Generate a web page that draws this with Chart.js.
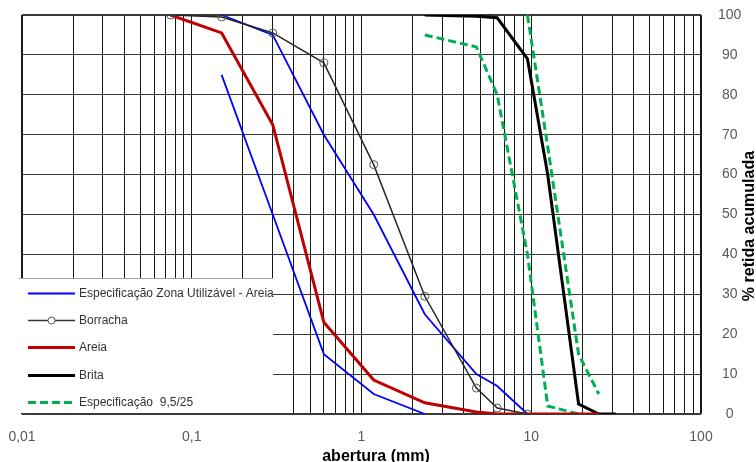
<!DOCTYPE html>
<html lang="pt-BR">
<head>
<meta charset="utf-8">
<title>Curva granulométrica</title>
<script src="https://cdn.jsdelivr.net/npm/chart.js@4.4.1/dist/chart.umd.min.js"></script>
<style>
  html, body { margin: 0; padding: 0; background: #fff; }
  #wrap { width: 756px; height: 462px; }
</style>
</head>
<body>
<div id="wrap"><canvas id="grafico" width="756" height="462"></canvas></div>
<script>
// abertura das peneiras (mm) x % retida acumulada
const zonaSupX = [0.15, 0.3, 0.6, 1.18, 2.36, 4.75, 6.3, 9.5];
const zonaSupY = [100, 95, 70, 50, 25, 10, 7, 0];
const zonaInfX = [0.15, 0.3, 0.6, 1.18, 2.36];
const zonaInfY = [85, 50, 15, 5, 0];

const borrachaX = [0.075, 0.15, 0.3, 0.6, 1.18, 2.36, 4.75, 6.3, 9.5];
const borrachaY = [100, 99.5, 95.5, 88, 62.5, 29.5, 6.5, 1.5, 0];

const areiaX = [0.075, 0.15, 0.3, 0.6, 1.18, 2.36, 4.75, 6.3, 9.5, 12.5, 19, 25];
const areiaY = [100, 95.5, 72.5, 23, 8.5, 2.8, 0.5, 0, 0, 0, 0, 0];

const britaX = [2.36, 4.75, 6.3, 9.5, 12.5, 19, 25, 31.5];
const britaY = [100, 99.7, 99.3, 89, 60, 2.5, 0, 0];

const espec1X = [2.36, 4.75, 6.3, 9.5, 12.5, 19];
const espec1Y = [95, 92, 80, 40, 2, 0];
const espec2X = [9.5, 12.5, 19, 25];
const espec2Y = [100, 67, 15, 5];

const xTickValues = [0.01, 0.1, 1, 10, 100];
const xTickLabels = ['0,01', '0,1', '1', '10', '100'];

const legendLabels = [
    'Especificação Zona Utilizável - Areia',
    'Borracha',
    'Areia',
    'Brita',
    'Especificação  9,5/25'
];

const FONTE = '"Liberation Sans", Arial, sans-serif';

function toPoints(xs, ys) {
    return xs.map((x, i) => ({ x: x, y: ys[i] }));
}

// linhas de grade em 1..9 de cada década
function logGridTicks(scale) {
    const ticks = [];
    for (let e = -2; e <= 1; e++) {
        for (let k = 1; k <= 9; k++) {
            ticks.push({ value: +(k * Math.pow(10, e)).toPrecision(6) });
        }
    }
    ticks.push({ value: 100 });
    scale.ticks = ticks;
}

function xLabel(value) {
    const i = xTickValues.findIndex(v => Math.abs(v - value) < 1e-9);
    return i >= 0 ? xTickLabels[i] : '';
}

function line(data, color, width, dash) {
    return {
        data: data,
        showLine: true,
        borderColor: color,
        borderWidth: width,
        borderDash: dash || [],
        pointRadius: 0,
        fill: false,
        tension: 0
    };
}

// legenda dentro da área do gráfico + títulos dos eixos
const legendaPlugin = {
    id: 'legendaInterna',
    beforeDatasetsDraw(chart) {
        const ctx = chart.ctx;
        const ca = chart.chartArea;
        const bx = ca.left - 3, by = ca.bottom - 136;
        const bw = 254, bh = 135;
        ctx.save();
        ctx.fillStyle = '#fff';
        ctx.fillRect(bx, by, bw, bh);
        ctx.strokeStyle = '#a6a6a6';
        ctx.lineWidth = 1;
        ctx.beginPath();
        ctx.moveTo(bx, by + 0.5);
        ctx.lineTo(bx + bw, by + 0.5);
        ctx.stroke();

        const estilos = [
            { color: '#0000ff', width: 2, dash: [] },
            { color: '#333333', width: 1.5, dash: [], marker: true },
            { color: '#c00000', width: 3, dash: [] },
            { color: '#000000', width: 3, dash: [] },
            { color: '#00b050', width: 3, dash: [8, 4] }
        ];
        ctx.font = '12px ' + FONTE;
        ctx.textBaseline = 'middle';
        ctx.fillStyle = '#333';
        legendLabels.forEach((txt, i) => {
            const y = Math.round(by + 15 + i * 27.2) + 0.5;
            const s = estilos[i];
            ctx.strokeStyle = s.color;
            ctx.lineWidth = s.width;
            ctx.setLineDash(s.dash);
            ctx.beginPath();
            ctx.moveTo(ca.left + 6, y);
            ctx.lineTo(ca.left + 53, y);
            ctx.stroke();
            ctx.setLineDash([]);
            if (s.marker) {
                ctx.fillStyle = '#fff';
                ctx.lineWidth = 1;
                ctx.strokeStyle = '#555';
                ctx.beginPath();
                ctx.arc(ca.left + 29.5, y, 3.5, 0, Math.PI * 2);
                ctx.fill();
                ctx.stroke();
            }
            ctx.fillStyle = '#333';
            ctx.fillText(txt, ca.left + 57, y);
        });
        ctx.restore();
    },
    afterDraw(chart) {
        const ctx = chart.ctx;
        ctx.save();
        ctx.fillStyle = '#000';
        ctx.font = 'bold 16px ' + FONTE;
        ctx.textAlign = 'center';
        ctx.textBaseline = 'alphabetic';
        ctx.fillText('abertura (mm)', 376, 461);
        ctx.translate(754, 226);
        ctx.rotate(-Math.PI / 2);
        ctx.fillText('% retida acumulada', 0, 0);
        ctx.restore();
    }
};

function criarGrafico() {
    const ctx = document.getElementById('grafico').getContext('2d');
    return new Chart(ctx, {
        type: 'scatter',
        data: {
            datasets: [
                Object.assign(line(toPoints(borrachaX, borrachaY), '#262626', 1.5), {
                    pointRadius: 4,
                    pointStyle: 'circle',
                    pointBackgroundColor: 'rgba(0,0,0,0)',
                    pointBorderColor: '#555',
                    pointBorderWidth: 1
                }),
                line(toPoints(areiaX, areiaY), '#c00000', 3),
                line(toPoints(zonaSupX, zonaSupY), '#0000ff', 1.8),
                line(toPoints(zonaInfX, zonaInfY), '#0000ff', 1.8),
                line(toPoints(britaX, britaY), '#000000', 3),
                line(toPoints(espec1X, espec1Y), '#00b050', 3, [8, 4]),
                line(toPoints(espec2X, espec2Y), '#00b050', 3, [8, 4])
            ]
        },
        options: {
            responsive: false,
            animation: false,
            devicePixelRatio: 1,
            layout: { padding: { left: 22, top: 15, right: 0, bottom: 0 } },
            plugins: {
                legend: { display: false },
                tooltip: { enabled: false }
            },
            scales: {
                x: {
                    type: 'logarithmic',
                    min: 0.01,
                    max: 100,
                    afterBuildTicks: logGridTicks,
                    afterFit: s => {
                        s.height = 48;
                        s.paddingLeft = 0;
                        s.paddingRight = 0;
                    },
                    border: { display: false },
                    grid: {
                        drawTicks: false,
                        color: '#1a1a1a',
                        lineWidth: c => (c.tick && (c.tick.value === 0.01 || c.tick.value === 100)) ? 2 : 1
                    },
                    ticks: {
                        autoSkip: false,
                        maxRotation: 0,
                        padding: 15,
                        color: '#595959',
                        font: { family: FONTE, size: 14 },
                        callback: v => xLabel(v)
                    }
                },
                y: {
                    position: 'right',
                    min: 0,
                    max: 100,
                    afterFit: s => {
                        s.width = 55;
                        s.paddingTop = 0;
                        s.paddingBottom = 0;
                    },
                    border: { display: false },
                    grid: {
                        drawTicks: false,
                        color: '#3a3a3a',
                        lineWidth: c => (c.tick && (c.tick.value === 0 || c.tick.value === 100)) ? 2 : 1
                    },
                    ticks: {
                        stepSize: 10,
                        padding: 17,
                        crossAlign: 'center',
                        color: '#595959',
                        font: { family: FONTE, size: 14 }
                    }
                }
            }
        },
        plugins: [legendaPlugin]
    });
}

criarGrafico();
</script>
</body>
</html>
